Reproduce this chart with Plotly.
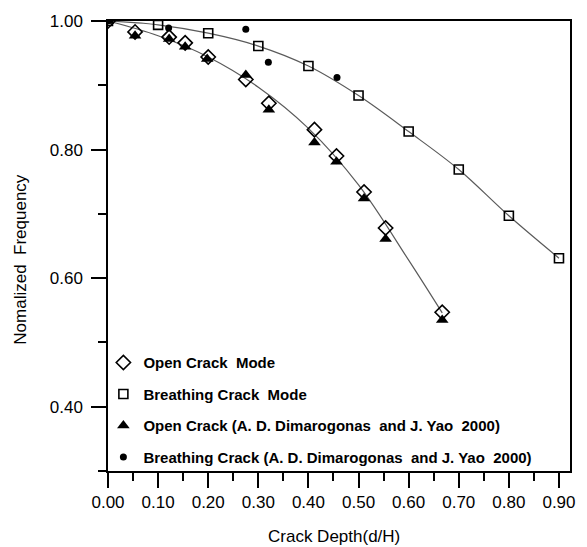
import plotly.graph_objects as go

# ---- data ----
open_x = [0.0, 0.054, 0.122, 0.154, 0.200, 0.275, 0.321, 0.412, 0.456, 0.511, 0.554, 0.667]
open_y = [1.000, 0.983, 0.975, 0.966, 0.944, 0.909, 0.872, 0.831, 0.790, 0.734, 0.678, 0.547]

open_ref_x = [0.0, 0.054, 0.122, 0.154, 0.198, 0.275, 0.321, 0.412, 0.456, 0.511, 0.554, 0.667]
open_ref_y = [1.000, 0.977, 0.972, 0.960, 0.941, 0.916, 0.862, 0.811, 0.781, 0.724, 0.661, 0.535]

breath_x = [0.0, 0.1, 0.2, 0.3, 0.4, 0.5, 0.6, 0.7, 0.8, 0.9]
breath_y = [1.000, 0.994, 0.981, 0.961, 0.930, 0.884, 0.828, 0.769, 0.697, 0.631]

breath_ref_x = [0.0, 0.121, 0.275, 0.320, 0.457]
breath_ref_y = [1.000, 0.989, 0.987, 0.936, 0.912]

# fitted curve of the open-crack mode
open_fit_x = [0.0, 0.1, 0.2, 0.3, 0.4, 0.5, 0.6, 0.667]
open_fit_y = [1.000, 0.977, 0.944, 0.897, 0.833, 0.745, 0.628, 0.546]

x_ticks = [0.0, 0.1, 0.2, 0.3, 0.4, 0.5, 0.6, 0.7, 0.8, 0.9]
y_ticks = [0.4, 0.6, 0.8, 1.0]
y_tick_text = ["0.40\u00a0", "0.60\u00a0", "0.80\u00a0", "1.00\u00a0"]

names = [
    "Open Crack  Mode",
    "Breathing Crack  Mode",
    "Open Crack (A. D. Dimarogonas  and J. Yao  2000)",
    "Breathing Crack (A. D. Dimarogonas  and J. Yao  2000)",
]

FONT = "Liberation Sans, Arial, sans-serif"
LINE_C = "#5a5a5a"

fig = go.Figure()

# fitted curves
fig.add_trace(go.Scatter(x=open_fit_x, y=open_fit_y, mode="lines",
                         line=dict(color=LINE_C, width=1.2, shape="spline", smoothing=1.0),
                         showlegend=False, hoverinfo="skip"))
fig.add_trace(go.Scatter(x=breath_x, y=breath_y, mode="lines",
                         line=dict(color=LINE_C, width=1.2, shape="spline", smoothing=1.0),
                         showlegend=False, hoverinfo="skip"))

# markers
fig.add_trace(go.Scatter(x=open_x, y=open_y, mode="markers", name=names[0], legendgroup="a",
                         marker=dict(symbol="diamond-open", size=11, color="black",
                                     line=dict(width=1.6, color="black"))))
fig.add_trace(go.Scatter(x=breath_x, y=breath_y, mode="markers", name=names[1], legendgroup="b",
                         marker=dict(symbol="square-open", size=9, color="black",
                                     line=dict(width=1.6, color="black"))))
fig.add_trace(go.Scatter(x=open_ref_x, y=open_ref_y, mode="markers", name=names[2], legendgroup="c",
                         marker=dict(symbol="triangle-up", size=11, color="black")))
fig.add_trace(go.Scatter(x=breath_ref_x, y=breath_ref_y, mode="markers", name=names[3], legendgroup="d",
                         marker=dict(symbol="circle", size=7, color="black")))

fig.update_layout(
    width=587, height=547,
    margin=dict(l=108, r=16, t=17, b=76),
    paper_bgcolor="white", plot_bgcolor="white",
    font=dict(family=FONT, color="black"),
    showlegend=True,
    legend=dict(x=-0.010, y=-0.005, xanchor="left", yanchor="bottom",
                bgcolor="rgba(0,0,0,0)", borderwidth=0,
                font=dict(family=FONT, size=15, color="black", weight="bold"),
                tracegroupgap=9, traceorder="grouped", itemwidth=30),
    xaxis=dict(range=[0, 0.922], tickvals=x_ticks, tickformat=".2f",
               showgrid=False, zeroline=False,
               showline=True, linecolor="black", linewidth=2, mirror=True,
               ticks="outside", ticklen=15, tickwidth=2, tickcolor="black",
               tickfont=dict(family=FONT, size=17, color="black"),
               minor=dict(ticks="outside", ticklen=8, tickwidth=2, tickcolor="black",
                          dtick=0.05, tick0=0, showgrid=False)),
    yaxis=dict(range=[0.3, 1.0], tickvals=y_ticks, ticktext=y_tick_text,
               showgrid=False, zeroline=False,
               showline=True, linecolor="black", linewidth=2, mirror=True,
               ticks="outside", ticklen=15, tickwidth=2, tickcolor="black",
               tickfont=dict(family=FONT, size=17, color="black"),
               minor=dict(ticks="outside", ticklen=8, tickwidth=2, tickcolor="black",
                          dtick=0.1, tick0=0.3, showgrid=False)),
    annotations=[
        dict(text="Crack Depth(d/H)", xref="paper", yref="paper", x=0.49, y=-0.145,
             xanchor="center", yanchor="middle", showarrow=False,
             font=dict(family=FONT, size=17, color="black")),
        dict(text="Nomalized  Frequency", xref="paper", yref="paper", x=-0.19, y=0.47,
             xanchor="center", yanchor="middle", showarrow=False, textangle=-90,
             font=dict(family=FONT, size=17, color="black")),
    ],
)

fig.write_html("out.html")
